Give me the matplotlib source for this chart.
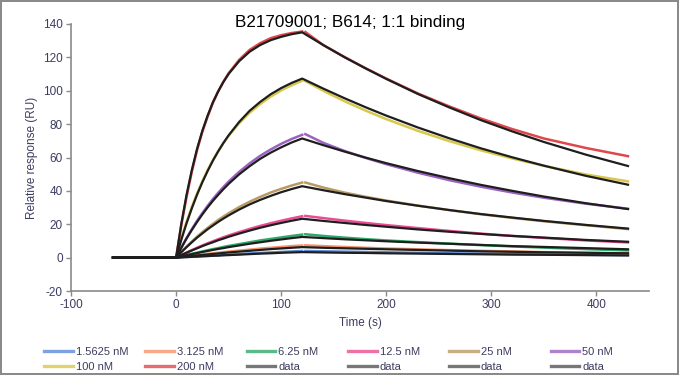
import numpy as np
import matplotlib.pyplot as plt
from matplotlib.lines import Line2D

plt.rcParams['font.family'] = ['Liberation Sans', 'DejaVu Sans']
plt.rcParams['axes.unicode_minus'] = False

TITLE = 'B21709001; B614; 1:1 binding'
LABELS = ['1.5625 nM', '3.125 nM', '6.25 nM', '12.5 nM', '25 nM', '50 nM', '100 nM', '200 nM']
COLORS = ['#5b8bd8', '#f4936b', '#2fa86a', '#ec4b94', '#b99a64', '#9b62c0', '#d8c84c', '#e0474c']

# time points (s)
t_base = [-60]
t_assoc = [0, 5, 10, 15, 20, 25, 30, 35, 40, 45, 50, 60, 70, 80, 90, 100, 110, 120]
t_dissoc = [140, 160, 180, 200, 230, 260, 290, 320, 350, 390, 430]
t_data_restart = 123

# measured responses (RU), association phase
data_assoc = [
    [0, 0.2, 0.4, 0.5, 0.7, 0.9, 1.1, 1.2, 1.4, 1.6, 1.8, 2.1, 2.5, 2.8, 3.1, 3.4, 3.7, 4.0],
    [0, 0.4, 0.8, 1.2, 1.5, 1.9, 2.3, 2.6, 2.9, 3.3, 3.6, 4.2, 4.8, 5.4, 5.9, 6.4, 6.9, 7.3],
    [0, 0.8, 1.6, 2.3, 3.0, 3.7, 4.4, 5.1, 5.7, 6.4, 7.0, 8.1, 9.2, 10.3, 11.2, 12.1, 13.0, 13.8],
    [0, 1.6, 3.1, 4.5, 5.9, 7.3, 8.6, 9.8, 11.0, 12.2, 13.3, 15.3, 17.2, 19.0, 20.6, 22.1, 23.5, 24.8],
    [0, 3.4, 6.7, 9.7, 12.6, 15.3, 17.8, 20.2, 22.5, 24.6, 26.6, 30.3, 33.5, 36.4, 39.0, 41.2, 43.2, 45.0],
    [0, 6.1, 11.8, 17.1, 22.1, 26.7, 31.0, 35.1, 38.8, 42.3, 45.6, 51.4, 56.5, 61.0, 64.8, 68.2, 71.1, 73.6],
    [0, 11.5, 21.5, 30.5, 38.5, 45.8, 52.5, 58.4, 63.8, 68.6, 73.0, 80.5, 86.8, 92.0, 96.5, 100.2, 103.3, 106.0],
    [0, 19.5, 36.5, 51.5, 64.5, 75.5, 84.5, 92.8, 99.5, 105.3, 110.5, 118.5, 124.5, 128.5, 131.5, 133.3, 134.6, 135.5],
]
# measured responses, dissociation phase (first value at t_data_restart)
data_dissoc = [
    [4.0, 3.8, 3.6, 3.4, 3.2, 2.9, 2.6, 2.4, 2.2, 2.0, 1.7, 1.5],
    [7.4, 6.9, 6.4, 5.9, 5.5, 5.0, 4.5, 4.1, 3.7, 3.3, 2.9, 2.5],
    [14.0, 13.0, 12.0, 11.1, 10.3, 9.3, 8.4, 7.5, 6.7, 6.0, 5.1, 4.3],
    [25.0, 23.7, 22.2, 20.8, 19.5, 17.7, 16.0, 14.4, 13.0, 11.8, 10.3, 9.1],
    [45.0, 42.0, 39.0, 36.5, 34.2, 31.2, 28.5, 26.0, 23.8, 21.8, 19.4, 17.1],
    [74.0, 68.8, 64.0, 59.8, 56.0, 50.9, 46.4, 42.5, 39.0, 35.9, 32.3, 29.3],
    [105.8, 100.0, 93.8, 88.2, 83.0, 76.0, 69.8, 64.3, 59.4, 55.0, 49.8, 45.7],
    [135.2, 127.4, 120.3, 113.6, 107.3, 98.4, 90.6, 83.4, 77.0, 71.4, 65.7, 60.8],
]

# 1:1 fit curves
fit_assoc = [
    [0, 0.2, 0.3, 0.5, 0.6, 0.8, 0.9, 1.1, 1.2, 1.4, 1.5, 1.8, 2.1, 2.4, 2.6, 2.9, 3.1, 3.3],
    [0, 0.3, 0.7, 1.0, 1.3, 1.6, 1.9, 2.2, 2.5, 2.8, 3.1, 3.6, 4.1, 4.6, 5.1, 5.5, 5.9, 6.3],
    [0, 0.7, 1.4, 2.1, 2.7, 3.4, 4.0, 4.6, 5.2, 5.7, 6.3, 7.3, 8.3, 9.2, 10.1, 10.9, 11.7, 12.4],
    [0, 1.5, 2.9, 4.3, 5.6, 6.9, 8.1, 9.2, 10.4, 11.4, 12.5, 14.4, 16.2, 17.9, 19.4, 20.8, 22.1, 23.3],
    [0, 3.3, 6.3, 9.2, 12.0, 14.5, 17.0, 19.2, 21.4, 23.4, 25.3, 28.8, 31.9, 34.6, 37.0, 39.2, 41.1, 42.8],
    [0, 5.9, 11.5, 16.6, 21.4, 25.9, 30.1, 34.0, 37.6, 41.0, 44.2, 49.9, 54.8, 59.2, 62.9, 66.1, 69.0, 71.4],
    [0, 10.8, 20.7, 29.6, 37.8, 45.2, 51.9, 58.1, 63.6, 68.7, 73.3, 81.3, 88.0, 93.3, 97.9, 101.6, 104.7, 107.3],
    [0, 20.4, 37.8, 52.6, 65.3, 76.0, 85.1, 93.0, 99.6, 105.3, 110.1, 117.7, 123.4, 127.4, 130.3, 132.3, 133.9, 135.0],
]
fit_dissoc = [
    [3.1, 2.9, 2.8, 2.6, 2.4, 2.2, 2.0, 1.8, 1.7, 1.5, 1.3],
    [5.9, 5.6, 5.3, 5.0, 4.6, 4.2, 3.8, 3.5, 3.2, 2.9, 2.6],
    [11.7, 11.0, 10.4, 9.8, 9.0, 8.3, 7.6, 6.9, 6.4, 5.7, 5.0],
    [22.0, 20.8, 19.6, 18.5, 16.9, 15.5, 14.2, 13.0, 12.0, 10.6, 9.5],
    [40.4, 38.1, 36.0, 33.9, 31.1, 28.5, 26.1, 24.0, 22.0, 19.6, 17.4],
    [67.4, 63.6, 60.0, 56.6, 51.9, 47.6, 43.6, 40.0, 36.6, 32.6, 29.1],
    [101.3, 95.6, 90.2, 85.1, 78.0, 71.5, 65.5, 60.1, 55.1, 49.0, 43.7],
    [127.4, 120.2, 113.5, 107.1, 98.1, 90.0, 82.4, 75.6, 69.3, 61.7, 54.9],
]

TXT = '#3c3c60'
AX = '#8a8a8a'

fig = plt.figure(figsize=(6.79, 3.75), dpi=100)
fig.patch.set_edgecolor('#8a8a8a')
fig.patch.set_linewidth(1.5)
ax = fig.add_axes([71 / 679, 84 / 375, 578 / 679, 267 / 375])

t_data = t_base + t_assoc + [np.nan, t_data_restart] + t_dissoc
t_fit = t_base + t_assoc + t_dissoc

handles = []
for i in range(len(LABELS)):
    y = [0] + data_assoc[i] + [np.nan] + data_dissoc[i]
    h, = ax.plot(t_data, y, color=COLORS[i], lw=1.8, label=LABELS[i])
    handles.append(h)
for i in range(len(LABELS)):
    y = [0] + fit_assoc[i] + fit_dissoc[i]
    ax.plot(t_fit, y, color='#1e1e1e', lw=1.6)

ax.set_xlim(-100, 450)
ax.set_ylim(-20, 140)
ax.set_xticks([-100, 0, 100, 200, 300, 400])
ax.set_yticks(range(-20, 141, 20))
for s in ['top', 'right']:
    ax.spines[s].set_visible(False)
for s in ['left', 'bottom']:
    ax.spines[s].set_color(AX)
    ax.spines[s].set_linewidth(1.2)
ax.tick_params(colors=AX, labelcolor=TXT, labelsize=8.5, length=3.6, width=1, pad=2.2)
ax.set_xlabel('Time (s)', color=TXT, fontsize=8.5, labelpad=4)
ax.set_ylabel('Relative response (RU)', color=TXT, fontsize=8.5, labelpad=3.5)

fig.text(350 / 679, 1 - 22 / 375, TITLE, ha='center', va='center', fontsize=12.3, color='black')

# legend: 6 columns, 2 rows
data_handle = Line2D([], [], color='#555555', lw=2.2)
entries = [(h, l) for h, l in zip(handles, LABELS)] + [(data_handle, 'data')] * 4
for col in range(6):
    hs = [entries[col][0], entries[col + 6][0]]
    ls = [entries[col][1], entries[col + 6][1]]
    leg = fig.legend(hs, ls, loc='upper left', bbox_to_anchor=((44 + 101.3 * col) / 679, 1 - 347 / 375),
                     frameon=False, fontsize=8, borderpad=0, borderaxespad=0, handlelength=2.6,
                     handletextpad=0.25, labelspacing=0.42, labelcolor=TXT)
    for ln in leg.get_lines():
        ln.set_linewidth(2.4)
        ln.set_alpha(0.8)

fig.savefig('out.png', dpi=100, edgecolor=fig.get_edgecolor())
